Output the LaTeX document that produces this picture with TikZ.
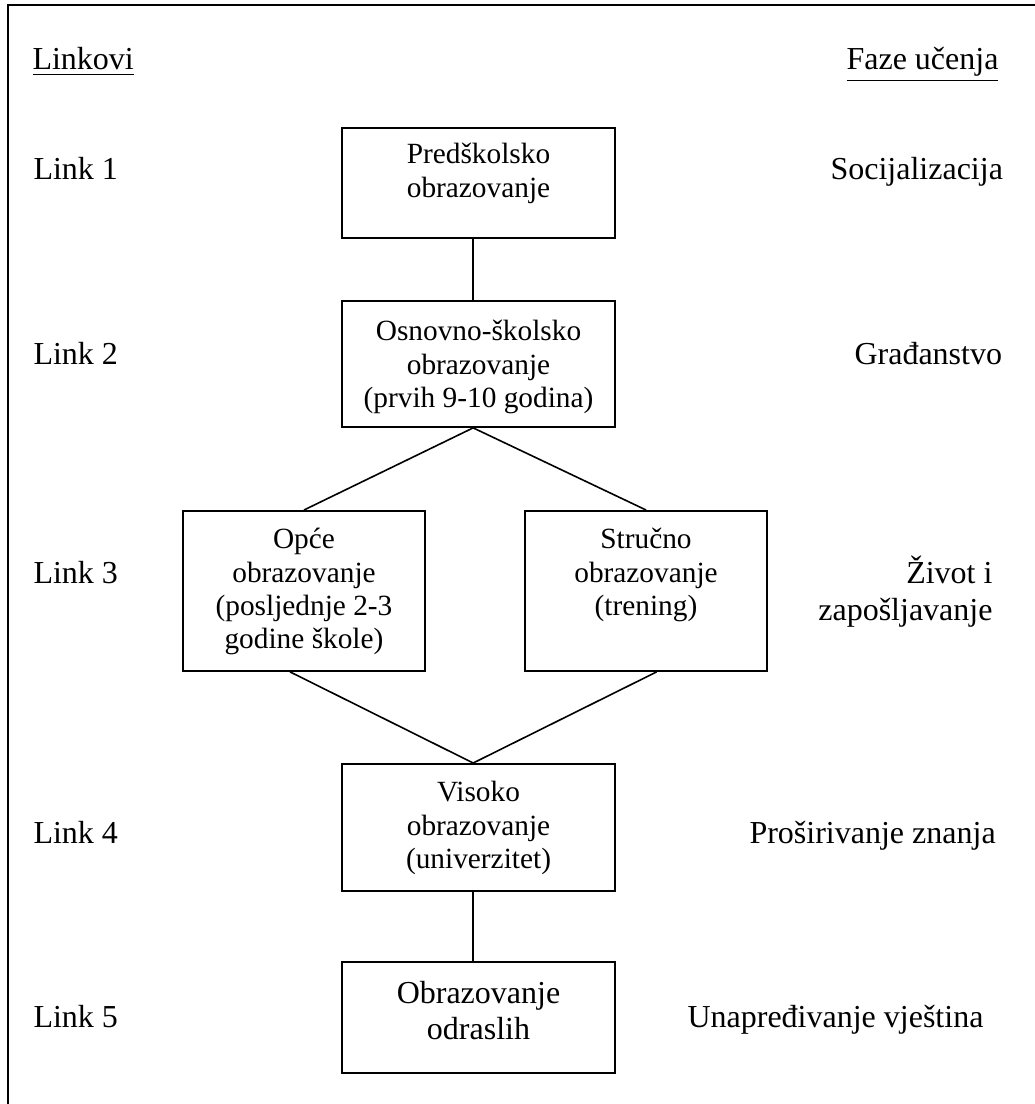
\documentclass[tikz,border=0pt]{standalone}
\usepackage{fontspec}
\setmainfont{Liberation Serif}
\usepackage{tikz}

\newcommand{\stagetext}[4]{\parbox[t][#1][t]{#2}{\centering\rule{0pt}{#3}#4}}

\begin{document}
\begin{tikzpicture}[x=0.375pt,y=-0.375pt,
  stage/.style={draw, line width=0.7pt, inner sep=0pt, anchor=north, font=\fontsize{11}{12.5}\selectfont},
  link/.style={inner sep=0pt, anchor=base west, font=\fontsize{12}{14}\selectfont},
  veza/.style={line width=0.6pt}]
 \useasboundingbox (0,0) rectangle (1035,1104);
 % okvir
 \draw[line width=0.8pt] (8,1110) -- (8,5) -- (1040,5);

 % naslovi
 \node[link] (linkovi) at (32,70) {\underline{Linkovi}};
 \node[link] (faze) at (846,70) {\underline{Faze učenja}};

 % Link 1
 \node[link] (link1) at (33,180) {Link 1};
 \node[stage] (predskolsko) at (478.5,127) {\stagetext{41.25pt}{102.4pt}{13.5pt}{Predškolsko\\obrazovanje}};
 \node[link] (faza1) at (830,180) {Socijalizacija};

 % Link 2
 \node[link] (link2) at (33,365) {Link 2};
 \node[stage] (osnovno) at (478.5,300) {\stagetext{47.25pt}{102.4pt}{15pt}{Osnovno-školsko\\obrazovanje\\(prvih 9-10 godina)}};
 \node[link] (faza2) at (854,365) {Građanstvo};

 % Link 3
 \node[link] (link3) at (33,583) {Link 3};
 \node[stage] (opce) at (304,510) {\stagetext{60pt}{90.75pt}{14.25pt}{Opće\\obrazovanje\\(posljednje 2-3\\godine škole)}};
 \node[stage] (strucno) at (646,510) {\stagetext{60pt}{90.75pt}{14.25pt}{Stručno\\obrazovanje\\(trening)}};
 \node[link, anchor=base east] (faza3) at (993,583) {\begin{tabular}[t]{@{}r@{}}Život i\\zapošljavanje\end{tabular}};

 % Link 4
 \node[link] (link4) at (33,843) {Link 4};
 \node[stage] (visoko) at (478.5,763) {\stagetext{47.6pt}{102.4pt}{14.25pt}{Visoko\\obrazovanje\\(univerzitet)}};
 \node[link] (faza4) at (749,843) {Proširivanje znanja};

 % Link 5
 \node[link] (link5) at (33,1027) {Link 5};
 \node[stage, font=\fontsize{12}{13.5}\selectfont] (odrasli) at (478.5,961) {\stagetext{41.6pt}{102.4pt}{15.4pt}{Obrazovanje\\odraslih}};
 \node[link] (faza5) at (687,1027) {Unapređivanje vještina};

 % veze
 \draw[veza] ([xshift=-2pt]predskolsko.south) -- ([xshift=-2pt]osnovno.north);
 \draw[veza] (opce.north) -- ([xshift=-2pt]osnovno.south) -- (strucno.north);
 \draw[veza] ([xshift=-5.25pt]opce.south) -- ([xshift=-2pt]visoko.north) -- ([xshift=4pt]strucno.south);
 \draw[veza] ([xshift=-2pt]visoko.south) -- ([xshift=-2pt]odrasli.north);
\end{tikzpicture}
\end{document}
